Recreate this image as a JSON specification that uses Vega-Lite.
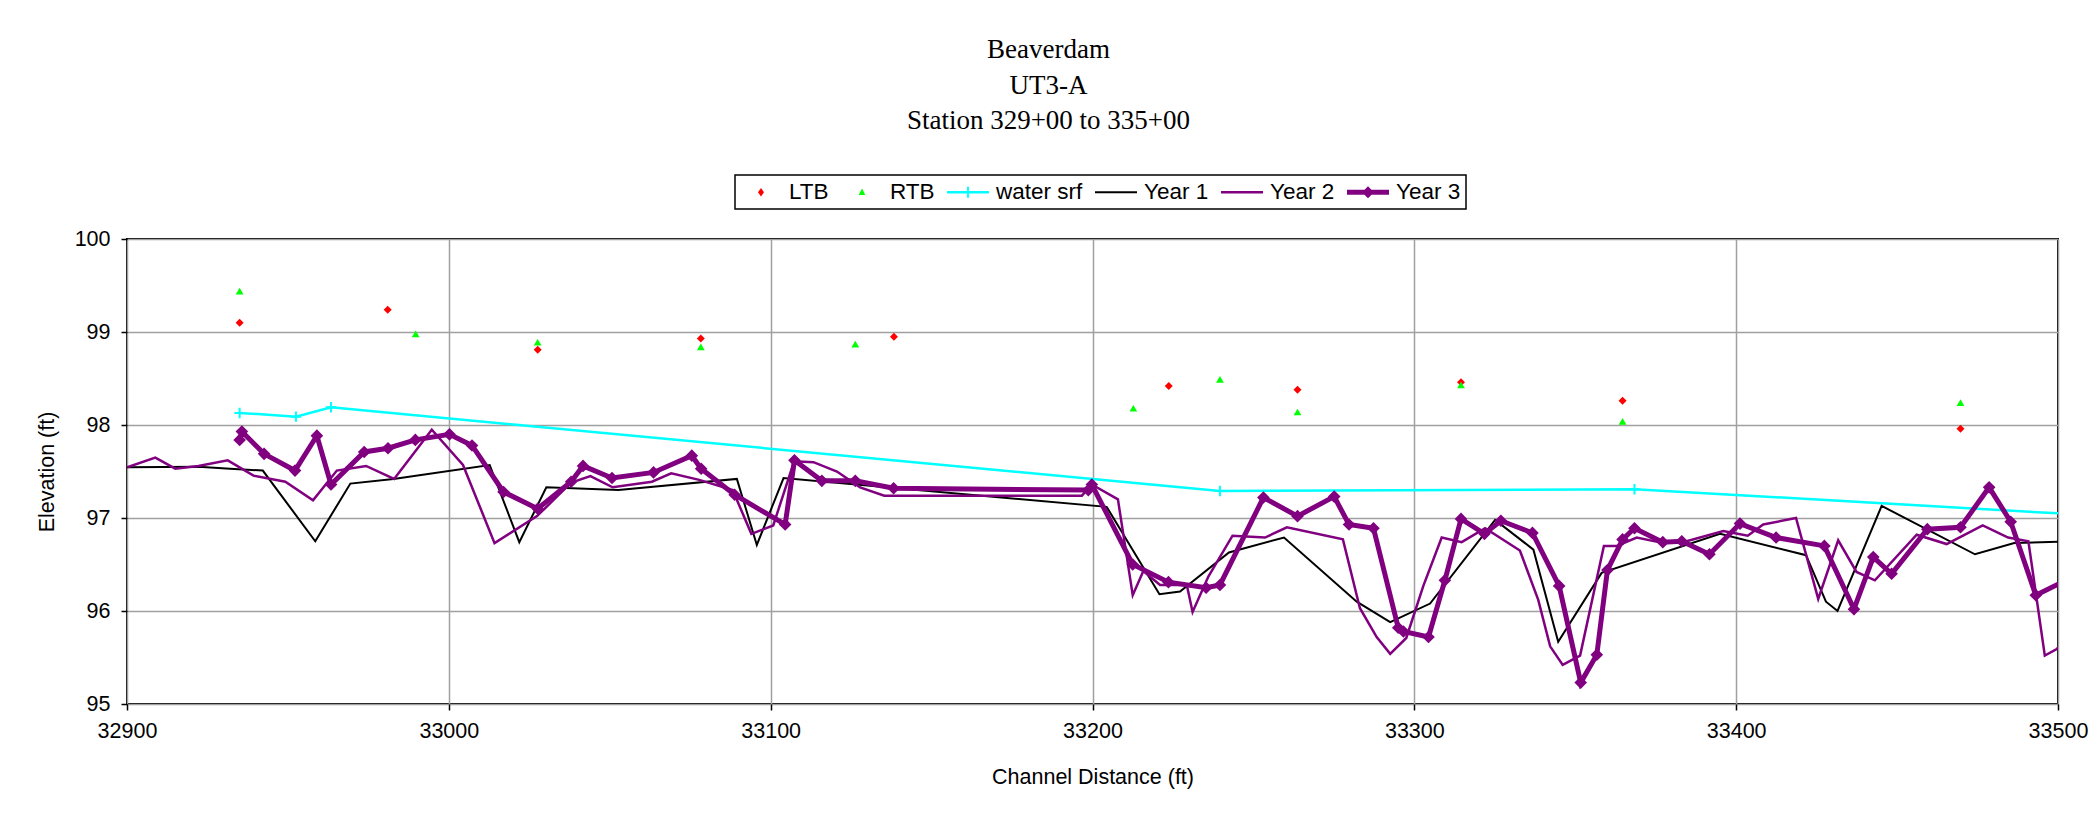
{
  "$schema": "https://vega.github.io/schema/vega-lite/v6.json",
  "autosize": {"type": "none"},
  "padding": {"left": 127, "top": 239, "right": 38, "bottom": 112},
  "width": 1931,
  "height": 465,
  "background": "white",
  "title": {
    "text": ["Beaverdam", "UT3-A", "Station 329+00 to 335+00"],
    "font": "Liberation Serif",
    "fontSize": 27,
    "fontWeight": "normal",
    "color": "black",
    "lineHeight": 35.5,
    "anchor": "middle",
    "dx": -44,
    "offset": 39
  },
  "data": {
    "values": [
      {"s": "LTB", "x": 32935, "y": 99.10},
      {"s": "LTB", "x": 32981, "y": 99.24},
      {"s": "LTB", "x": 33027.6, "y": 98.81},
      {"s": "LTB", "x": 33078.3, "y": 98.93},
      {"s": "LTB", "x": 33138.3, "y": 98.95},
      {"s": "LTB", "x": 33223.7, "y": 98.42},
      {"s": "LTB", "x": 33263.7, "y": 98.38},
      {"s": "LTB", "x": 33314.5, "y": 98.46},
      {"s": "LTB", "x": 33364.7, "y": 98.26},
      {"s": "LTB", "x": 33469.7, "y": 97.96},
      {"s": "RTB", "x": 32935, "y": 99.44},
      {"s": "RTB", "x": 32989.7, "y": 98.98},
      {"s": "RTB", "x": 33027.6, "y": 98.89},
      {"s": "RTB", "x": 33078.3, "y": 98.84},
      {"s": "RTB", "x": 33126.3, "y": 98.87},
      {"s": "RTB", "x": 33212.7, "y": 98.18},
      {"s": "RTB", "x": 33239.6, "y": 98.49},
      {"s": "RTB", "x": 33263.7, "y": 98.14},
      {"s": "RTB", "x": 33314.5, "y": 98.43},
      {"s": "RTB", "x": 33364.7, "y": 98.04},
      {"s": "RTB", "x": 33469.7, "y": 98.24},
      {"s": "water srf", "x": 32935, "y": 98.13},
      {"s": "water srf", "x": 32952.5, "y": 98.09},
      {"s": "water srf", "x": 32963.4, "y": 98.19},
      {"s": "water srf", "x": 33239.6, "y": 97.29},
      {"s": "water srf", "x": 33368.4, "y": 97.31},
      {"s": "water srf", "x": 33510, "y": 97.03},
      {"s": "Year 1", "x": 32900, "y": 97.545},
      {"s": "Year 1", "x": 32922.2, "y": 97.55},
      {"s": "Year 1", "x": 32932, "y": 97.53},
      {"s": "Year 1", "x": 32942.2, "y": 97.51},
      {"s": "Year 1", "x": 32958.5, "y": 96.75},
      {"s": "Year 1", "x": 32969.4, "y": 97.37},
      {"s": "Year 1", "x": 32982.8, "y": 97.42},
      {"s": "Year 1", "x": 33012.7, "y": 97.57},
      {"s": "Year 1", "x": 33021.9, "y": 96.74},
      {"s": "Year 1", "x": 33030.3, "y": 97.33},
      {"s": "Year 1", "x": 33052.7, "y": 97.30},
      {"s": "Year 1", "x": 33089.5, "y": 97.42},
      {"s": "Year 1", "x": 33095.7, "y": 96.71},
      {"s": "Year 1", "x": 33104.0, "y": 97.43},
      {"s": "Year 1", "x": 33204.4, "y": 97.12},
      {"s": "Year 1", "x": 33220.8, "y": 96.18},
      {"s": "Year 1", "x": 33227.2, "y": 96.21},
      {"s": "Year 1", "x": 33242.4, "y": 96.63},
      {"s": "Year 1", "x": 33259.5, "y": 96.79},
      {"s": "Year 1", "x": 33282.1, "y": 96.10},
      {"s": "Year 1", "x": 33292.5, "y": 95.88},
      {"s": "Year 1", "x": 33304.9, "y": 96.08},
      {"s": "Year 1", "x": 33325.1, "y": 96.98},
      {"s": "Year 1", "x": 33337.0, "y": 96.66},
      {"s": "Year 1", "x": 33344.7, "y": 95.67},
      {"s": "Year 1", "x": 33358.2, "y": 96.41},
      {"s": "Year 1", "x": 33395.0, "y": 96.83},
      {"s": "Year 1", "x": 33421.7, "y": 96.60},
      {"s": "Year 1", "x": 33427.9, "y": 96.10},
      {"s": "Year 1", "x": 33431.5, "y": 96.00},
      {"s": "Year 1", "x": 33445.2, "y": 97.13},
      {"s": "Year 1", "x": 33474.2, "y": 96.61},
      {"s": "Year 1", "x": 33486.4, "y": 96.73},
      {"s": "Year 1", "x": 33505, "y": 96.75},
      {"s": "Year 2", "x": 32900, "y": 97.545},
      {"s": "Year 2", "x": 32908.8, "y": 97.65},
      {"s": "Year 2", "x": 32915.0, "y": 97.53},
      {"s": "Year 2", "x": 32922.2, "y": 97.56},
      {"s": "Year 2", "x": 32931.3, "y": 97.62},
      {"s": "Year 2", "x": 32939.3, "y": 97.455},
      {"s": "Year 2", "x": 32949.2, "y": 97.39},
      {"s": "Year 2", "x": 32957.8, "y": 97.19},
      {"s": "Year 2", "x": 32965.2, "y": 97.51},
      {"s": "Year 2", "x": 32974.3, "y": 97.56},
      {"s": "Year 2", "x": 32983.0, "y": 97.42},
      {"s": "Year 2", "x": 32994.7, "y": 97.95},
      {"s": "Year 2", "x": 33004.4, "y": 97.57},
      {"s": "Year 2", "x": 33014.2, "y": 96.73},
      {"s": "Year 2", "x": 33027.4, "y": 97.02},
      {"s": "Year 2", "x": 33038.0, "y": 97.38},
      {"s": "Year 2", "x": 33044.0, "y": 97.45},
      {"s": "Year 2", "x": 33050.9, "y": 97.33},
      {"s": "Year 2", "x": 33063.1, "y": 97.39},
      {"s": "Year 2", "x": 33069.1, "y": 97.48},
      {"s": "Year 2", "x": 33077.8, "y": 97.41},
      {"s": "Year 2", "x": 33088.2, "y": 97.30},
      {"s": "Year 2", "x": 33094.0, "y": 96.83},
      {"s": "Year 2", "x": 33100.8, "y": 96.92},
      {"s": "Year 2", "x": 33107.3, "y": 97.61},
      {"s": "Year 2", "x": 33113.3, "y": 97.60},
      {"s": "Year 2", "x": 33120.6, "y": 97.50},
      {"s": "Year 2", "x": 33127.8, "y": 97.33},
      {"s": "Year 2", "x": 33135.3, "y": 97.24},
      {"s": "Year 2", "x": 33196.7, "y": 97.24},
      {"s": "Year 2", "x": 33199.8, "y": 97.36},
      {"s": "Year 2", "x": 33207.9, "y": 97.20},
      {"s": "Year 2", "x": 33212.5, "y": 96.17},
      {"s": "Year 2", "x": 33215.8, "y": 96.43},
      {"s": "Year 2", "x": 33221.0, "y": 96.28},
      {"s": "Year 2", "x": 33229.3, "y": 96.28},
      {"s": "Year 2", "x": 33231.1, "y": 95.99},
      {"s": "Year 2", "x": 33236.0, "y": 96.37},
      {"s": "Year 2", "x": 33243.5, "y": 96.81},
      {"s": "Year 2", "x": 33253.6, "y": 96.79},
      {"s": "Year 2", "x": 33260.4, "y": 96.90},
      {"s": "Year 2", "x": 33277.8, "y": 96.77},
      {"s": "Year 2", "x": 33283.1, "y": 96.03},
      {"s": "Year 2", "x": 33288.3, "y": 95.72},
      {"s": "Year 2", "x": 33292.5, "y": 95.54},
      {"s": "Year 2", "x": 33297.5, "y": 95.71},
      {"s": "Year 2", "x": 33302.8, "y": 96.27},
      {"s": "Year 2", "x": 33308.5, "y": 96.79},
      {"s": "Year 2", "x": 33314.7, "y": 96.74},
      {"s": "Year 2", "x": 33322.0, "y": 96.89},
      {"s": "Year 2", "x": 33332.8, "y": 96.65},
      {"s": "Year 2", "x": 33338.5, "y": 96.12},
      {"s": "Year 2", "x": 33342.2, "y": 95.62},
      {"s": "Year 2", "x": 33346.1, "y": 95.42},
      {"s": "Year 2", "x": 33351.5, "y": 95.52},
      {"s": "Year 2", "x": 33358.9, "y": 96.70},
      {"s": "Year 2", "x": 33362.9, "y": 96.70},
      {"s": "Year 2", "x": 33369.1, "y": 96.79},
      {"s": "Year 2", "x": 33377.4, "y": 96.73},
      {"s": "Year 2", "x": 33384.6, "y": 96.75},
      {"s": "Year 2", "x": 33396.0, "y": 96.86},
      {"s": "Year 2", "x": 33403.6, "y": 96.81},
      {"s": "Year 2", "x": 33408.4, "y": 96.93},
      {"s": "Year 2", "x": 33418.6, "y": 97.00},
      {"s": "Year 2", "x": 33425.5, "y": 96.13},
      {"s": "Year 2", "x": 33431.7, "y": 96.76},
      {"s": "Year 2", "x": 33437.4, "y": 96.42},
      {"s": "Year 2", "x": 33443.1, "y": 96.33},
      {"s": "Year 2", "x": 33456.1, "y": 96.82},
      {"s": "Year 2", "x": 33465.4, "y": 96.72},
      {"s": "Year 2", "x": 33476.6, "y": 96.92},
      {"s": "Year 2", "x": 33484.5, "y": 96.79},
      {"s": "Year 2", "x": 33490.8, "y": 96.75},
      {"s": "Year 2", "x": 33495.9, "y": 95.52},
      {"s": "Year 2", "x": 33499.6, "y": 95.59},
      {"s": "Year 2", "x": 33503, "y": 95.75},
      {"s": "Year 3", "x": 32935.0, "y": 97.84},
      {"s": "Year 3", "x": 32935.7, "y": 97.93},
      {"s": "Year 3", "x": 32942.6, "y": 97.69},
      {"s": "Year 3", "x": 32952.2, "y": 97.51},
      {"s": "Year 3", "x": 32959.0, "y": 97.885},
      {"s": "Year 3", "x": 32963.4, "y": 97.36},
      {"s": "Year 3", "x": 32973.7, "y": 97.71},
      {"s": "Year 3", "x": 32981.1, "y": 97.75},
      {"s": "Year 3", "x": 32989.6, "y": 97.84},
      {"s": "Year 3", "x": 33000.2, "y": 97.90},
      {"s": "Year 3", "x": 33007.2, "y": 97.78},
      {"s": "Year 3", "x": 33017.0, "y": 97.28},
      {"s": "Year 3", "x": 33027.6, "y": 97.10},
      {"s": "Year 3", "x": 33038.0, "y": 97.39},
      {"s": "Year 3", "x": 33041.7, "y": 97.56},
      {"s": "Year 3", "x": 33050.7, "y": 97.43},
      {"s": "Year 3", "x": 33063.6, "y": 97.49},
      {"s": "Year 3", "x": 33075.5, "y": 97.67},
      {"s": "Year 3", "x": 33078.4, "y": 97.53},
      {"s": "Year 3", "x": 33088.8, "y": 97.25},
      {"s": "Year 3", "x": 33104.5, "y": 96.93},
      {"s": "Year 3", "x": 33107.4, "y": 97.62},
      {"s": "Year 3", "x": 33115.9, "y": 97.40},
      {"s": "Year 3", "x": 33126.3, "y": 97.40},
      {"s": "Year 3", "x": 33138.2, "y": 97.32},
      {"s": "Year 3", "x": 33198.7, "y": 97.30},
      {"s": "Year 3", "x": 33199.8, "y": 97.36},
      {"s": "Year 3", "x": 33212.5, "y": 96.50},
      {"s": "Year 3", "x": 33223.6, "y": 96.31},
      {"s": "Year 3", "x": 33235.3, "y": 96.25},
      {"s": "Year 3", "x": 33239.6, "y": 96.28},
      {"s": "Year 3", "x": 33253.1, "y": 97.22},
      {"s": "Year 3", "x": 33263.7, "y": 97.02},
      {"s": "Year 3", "x": 33275.1, "y": 97.23},
      {"s": "Year 3", "x": 33279.7, "y": 96.93},
      {"s": "Year 3", "x": 33287.3, "y": 96.89},
      {"s": "Year 3", "x": 33295.0, "y": 95.82},
      {"s": "Year 3", "x": 33296.6, "y": 95.78},
      {"s": "Year 3", "x": 33304.4, "y": 95.72},
      {"s": "Year 3", "x": 33309.5, "y": 96.33},
      {"s": "Year 3", "x": 33314.5, "y": 96.99},
      {"s": "Year 3", "x": 33321.8, "y": 96.83},
      {"s": "Year 3", "x": 33326.9, "y": 96.97},
      {"s": "Year 3", "x": 33336.7, "y": 96.84},
      {"s": "Year 3", "x": 33345.0, "y": 96.27},
      {"s": "Year 3", "x": 33351.7, "y": 95.23},
      {"s": "Year 3", "x": 33356.7, "y": 95.53},
      {"s": "Year 3", "x": 33360.0, "y": 96.44},
      {"s": "Year 3", "x": 33364.7, "y": 96.77},
      {"s": "Year 3", "x": 33368.4, "y": 96.89},
      {"s": "Year 3", "x": 33377.2, "y": 96.74},
      {"s": "Year 3", "x": 33383.1, "y": 96.75},
      {"s": "Year 3", "x": 33391.7, "y": 96.61},
      {"s": "Year 3", "x": 33401.2, "y": 96.94},
      {"s": "Year 3", "x": 33412.4, "y": 96.79},
      {"s": "Year 3", "x": 33427.4, "y": 96.70},
      {"s": "Year 3", "x": 33436.6, "y": 96.02},
      {"s": "Year 3", "x": 33442.6, "y": 96.58},
      {"s": "Year 3", "x": 33448.3, "y": 96.40},
      {"s": "Year 3", "x": 33459.4, "y": 96.88},
      {"s": "Year 3", "x": 33469.7, "y": 96.90},
      {"s": "Year 3", "x": 33478.6, "y": 97.33},
      {"s": "Year 3", "x": 33485.3, "y": 96.96},
      {"s": "Year 3", "x": 33493.1, "y": 96.17},
      {"s": "Year 3", "x": 33506, "y": 96.39}
    ]
  },
  "encoding": {
    "x": {
      "field": "x", "type": "quantitative",
      "scale": {"domain": [32900, 33500], "nice": false, "zero": false},
      "axis": {
        "title": "Channel Distance (ft)",
        "values": [32900, 33000, 33100, 33200, 33300, 33400, 33500],
        "format": "d",
        "labelFlush": false,
        "labelPadding": 10,
        "titlePadding": 25
      }
    },
    "y": {
      "field": "y", "type": "quantitative",
      "scale": {"domain": [95, 100], "nice": false, "zero": false},
      "axis": {
        "title": "Elevation (ft)",
        "values": [95, 96, 97, 98, 99, 100],
        "labelPadding": 11,
        "titlePadding": 16
      }
    },
    "color": {
      "field": "s", "type": "nominal",
      "scale": {
        "domain": ["LTB", "RTB", "water srf", "Year 1", "Year 2", "Year 3"],
        "range": ["#FF0000", "#00FF00", "#00FFFF", "#000000", "#800080", "#800080"]
      },
      "legend": {
        "title": null,
        "orient": "none",
        "legendX": 608,
        "legendY": -64,
        "direction": "horizontal",
        "columns": 6,
        "padding": 5,
        "strokeColor": "black",
        "fillColor": "white",
        "symbolSize": 576,
        "symbolStrokeWidth": 0,
        "labelFont": "Liberation Sans",
        "labelFontSize": 22.5,
        "labelColor": "black",
        "labelOffset": 25,
        "labelLimit": 0,
        "columnPadding": 12,
        "symbolLimit": 0,
        "encode": {
          "legend": {
            "update": {
              "strokeWidth": {"value": 1.5}
            }
          },
          "symbols": {
            "update": {
              "shape": {"signal": "datum.value === 'LTB' ? 'M0.75,-0.35L1.0,0L0.75,0.35L0.5,0Z' : datum.value === 'RTB' ? 'M0.75,-0.32L1.03,0.22L0.47,0.22Z' : datum.value === 'water srf' ? 'M-1,-0.1H2.5V0.1H-1Z M0.67,-0.45H0.83V0.45H0.67Z' : datum.value === 'Year 3' ? 'M-1,-0.2H2.5V0.2H-1Z M0.75,-0.5L1.25,0L0.75,0.5L0.25,0Z' : datum.value === 'Year 2' ? 'M-1,-0.1H2.5V0.1H-1Z' : 'M-1,-0.083H2.5V0.083H-1Z'"},
              "fill": {"scale": "color", "field": "value"},
              "stroke": {"value": "transparent"},
              "strokeWidth": {"value": 0},
              "opacity": {"value": 1}
            }
          }
        }
      }
    }
  },
  "layer": [
    {
      "transform": [{"filter": "datum.s === 'LTB'"}],
      "mark": {"type": "point", "shape": "diamond", "filled": true, "size": 64, "opacity": 1, "clip": true}
    },
    {
      "transform": [{"filter": "datum.s === 'RTB'"}],
      "mark": {"type": "point", "shape": "triangle-up", "filled": true, "size": 60, "opacity": 1, "clip": true}
    },
    {
      "transform": [{"filter": "datum.s === 'water srf'"}],
      "mark": {"type": "line", "strokeWidth": 2.5, "clip": true}
    },
    {
      "transform": [{"filter": "datum.s === 'water srf'"}],
      "mark": {"type": "point", "shape": "M-1,0H1M0,-1V1", "filled": false, "size": 110, "strokeWidth": 2, "opacity": 1, "clip": true}
    },
    {
      "transform": [{"filter": "datum.s === 'Year 1'"}],
      "mark": {"type": "line", "strokeWidth": 2, "clip": true}
    },
    {
      "transform": [{"filter": "datum.s === 'Year 2'"}],
      "mark": {"type": "line", "strokeWidth": 2.5, "clip": true}
    },
    {
      "transform": [{"filter": "datum.s === 'Year 3'"}],
      "mark": {"type": "line", "strokeWidth": 5, "clip": true}
    },
    {
      "transform": [{"filter": "datum.s === 'Year 3'"}],
      "mark": {"type": "point", "shape": "diamond", "filled": true, "size": 160, "strokeWidth": 1, "opacity": 1, "clip": true}
    }
  ],
  "config": {
    "view": {"stroke": "black", "strokeWidth": 2},
    "axis": {
      "labelFont": "Liberation Sans",
      "labelFontSize": 21.5,
      "labelColor": "black",
      "titleFont": "Liberation Sans",
      "titleFontSize": 21.5,
      "titleFontWeight": "normal",
      "titleColor": "black",
      "tickColor": "black",
      "tickSize": 6,
      "tickWidth": 1.5,
      "domain": false,
      "grid": true,
      "gridColor": "#a0a0a0",
      "gridWidth": 1.5
    }
  }
}
